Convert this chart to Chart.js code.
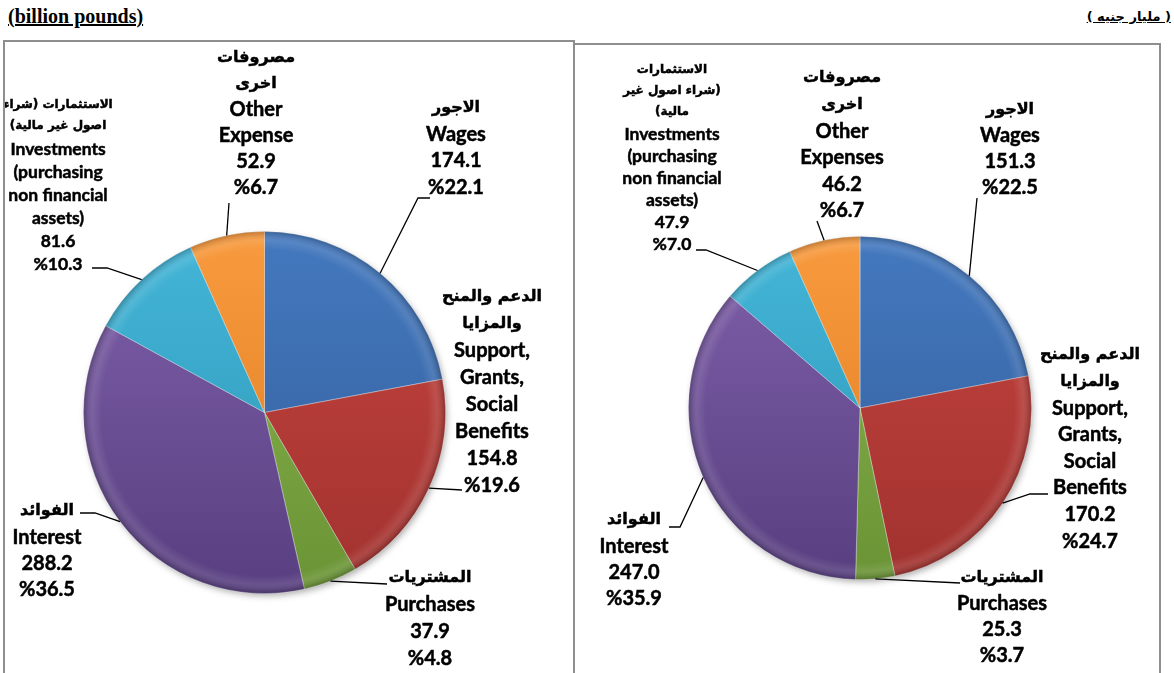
<!DOCTYPE html>
<html>
<head>
<meta charset="utf-8">
<script src="https://cdn.jsdelivr.net/npm/chart.js@4/dist/chart.umd.min.js"></script>
<style>
  body { margin: 0; background: #fff; width: 1174px; height: 673px; overflow: hidden; position: relative; }
  .unit { position: absolute; font-weight: bold; text-decoration: underline; color: #000; white-space: nowrap; }
  #unitEn { left: 8px; top: 5px; font-family: "Liberation Serif", "Times New Roman", serif; font-size: 20px; }
  #unitAr { right: 3px; top: 9px; font-family: "DejaVu Sans", sans-serif; font-size: 13px; direction: rtl; }
  .frame { position: absolute; border: 2px solid #8e8e8e; border-bottom: none; height: 660px; }
  #frameLeft { left: 3px; top: 40px; width: 568px; }
  #frameRight { left: 573px; top: 43px; width: 584px; }
  canvas { position: absolute; }
  #pieLeft { left: 5px; top: 42px; }
  #pieRight { left: 576px; top: 46px; }
</style>
</head>
<body>
<div class="unit" id="unitEn">(billion pounds)</div>
<div class="unit" id="unitAr">( مليار جنيه )</div>
<div class="frame" id="frameLeft"></div>
<div class="frame" id="frameRight"></div>
<canvas id="pieLeft" width="566" height="631"></canvas>
<canvas id="pieRight" width="582" height="627"></canvas>

<script>
// expenditure breakdown, billion pounds (slice order clockwise from the top)
const leftNamesAr = ['الاجور', 'الدعم والمنح\nوالمزايا', 'المشتريات', 'الفوائد', 'الاستثمارات (شراء\nاصول غير مالية)', 'مصروفات\nاخرى'];
const rightNamesAr = ['الاجور', 'الدعم والمنح\nوالمزايا', 'المشتريات', 'الفوائد', 'الاستثمارات\n(شراء اصول غير\nمالية)', 'مصروفات\nاخرى'];
const leftNamesEn = ['Wages', 'Support,\nGrants,\nSocial\nBenefits', 'Purchases', 'Interest', 'Investments\n(purchasing\nnon financial\nassets)', 'Other\nExpense'];
const rightNamesEn = ['Wages', 'Support,\nGrants,\nSocial\nBenefits', 'Purchases', 'Interest', 'Investments\n(purchasing\nnon financial\nassets)', 'Other\nExpenses'];

const leftValues = [174.1, 154.8, 37.9, 288.2, 81.6, 52.9];
const leftPct = [22.1, 19.6, 4.8, 36.5, 10.3, 6.7];
const rightValues = [151.3, 170.2, 25.3, 247.0, 47.9, 46.2];
const rightPct = [22.5, 24.7, 3.7, 35.9, 7.0, 6.7];

// top / bottom shade for each slice
const sliceColours = [
  ['#4479bf', '#325d9a'],
  ['#c6443f', '#a1322f'],
  ['#8cb650', '#6a9335'],
  ['#8060ab', '#583f80'],
  ['#44b6d8', '#2c94b5'],
  ['#f89a3e', '#df7c20']
];

// label placement (page pixels): first line centre, line steps, leader bend points
const leftLayout = [
  { x: 456, y: 108, step: 26.5, leader: [[418, 198], [430, 198]] },
  { x: 492, y: 297, step: 27, leader: [[462, 490]] },
  { x: 430, y: 578, step: 26.7, leader: [[387, 584]] },
  { x: 47, y: 511, step: 26.3, leader: [[95, 513], [80, 513]] },
  { x: 58, y: 105, step: 23, arStep: 21, size: 17.5, arSize: 12, leader: [[107, 268], [92, 268]] },
  { x: 256, y: 58, step: 26, leader: [[229, 203]] }
];
const rightLayout = [
  { x: 1010, y: 110, step: 26, leader: [[977, 198]] },
  { x: 1090, y: 355, step: 26.6, leader: [[1030, 494], [1048, 494]] },
  { x: 1002, y: 578, step: 26, leader: [[960, 583]] },
  { x: 634, y: 520, step: 26.3, leader: [[680, 527], [669, 527]] },
  { x: 672, y: 70, step: 22, arStep: 21, size: 17.5, arSize: 12, leader: [[706, 250], [696, 250]] },
  { x: 842, y: 78, step: 26.6, leader: [[817, 221]] }
];

// drop shadow under the pie and a soft bevel along its rim
const pieShade = {
  id: 'pieShade',
  beforeDatasetsDraw(chart) {
    const arc = chart.getDatasetMeta(0).data[0];
    if (!arc) return;
    const ctx = chart.ctx;
    ctx.save();
    ctx.shadowColor = 'rgba(0,0,0,0.35)';
    ctx.shadowBlur = 7;
    ctx.shadowOffsetX = 2;
    ctx.shadowOffsetY = 3;
    ctx.beginPath();
    ctx.arc(arc.x, arc.y, arc.outerRadius - 1, 0, Math.PI * 2);
    ctx.fillStyle = '#777';
    ctx.fill();
    ctx.restore();
  },
  afterDatasetsDraw(chart) {
    const arc = chart.getDatasetMeta(0).data[0];
    if (!arc) return;
    const ctx = chart.ctx;
    const g = ctx.createRadialGradient(arc.x, arc.y, 0, arc.x, arc.y, arc.outerRadius);
    g.addColorStop(0, 'rgba(255,255,255,0)');
    g.addColorStop(0.9, 'rgba(255,255,255,0)');
    g.addColorStop(0.95, 'rgba(255,255,255,0.10)');
    g.addColorStop(1, 'rgba(0,0,0,0.22)');
    ctx.save();
    ctx.beginPath();
    ctx.arc(arc.x, arc.y, arc.outerRadius, 0, Math.PI * 2);
    ctx.fillStyle = g;
    ctx.fill();
    ctx.restore();
  }
};

function sliceLabels(namesAr, namesEn, values, pct, layout) {
  return {
    id: 'sliceLabels',
    afterDatasetsDraw(chart) {
      const ctx = chart.ctx;
      const ox = chart.canvas.offsetLeft;
      const oy = chart.canvas.offsetTop;
      ctx.save();
      ctx.textAlign = 'center';
      ctx.textBaseline = 'middle';
      ctx.fillStyle = '#000';
      chart.getDatasetMeta(0).data.forEach((arc, i) => {
        const spot = layout[i];
        const mid = (arc.startAngle + arc.endAngle) / 2;
        ctx.beginPath();
        ctx.moveTo(arc.x + Math.cos(mid) * arc.outerRadius, arc.y + Math.sin(mid) * arc.outerRadius);
        spot.leader.forEach(p => ctx.lineTo(p[0] - ox, p[1] - oy));
        ctx.strokeStyle = '#000';
        ctx.lineWidth = 1.3;
        ctx.stroke();

        const lines = [];
        namesAr[i].split('\n').forEach(t => lines.push({ t, ar: true }));
        namesEn[i].split('\n').forEach(t => lines.push({ t }));
        lines.push({ t: values[i].toFixed(1) });
        lines.push({ t: '%' + pct[i].toFixed(1) });

        let ty = spot.y - oy;
        lines.forEach((ln, k) => {
          if (k > 0) ty += ln.ar ? (spot.arStep || spot.step) : spot.step;
          ctx.font = ln.ar
            ? 'bold ' + (spot.arSize || 16) + 'px "DejaVu Sans"'
            : 'bold ' + (spot.size || 20) + 'px Lato';
          ctx.direction = ln.ar ? 'rtl' : 'ltr';
          ctx.lineWidth = 0.5;
          ctx.strokeStyle = '#000';
          ctx.strokeText(ln.t, spot.x - ox, ty);
          ctx.fillText(ln.t, spot.x - ox, ty);
        });
      });
      ctx.restore();
    }
  };
}

function drawPie(id, values, names, padding, labelPlugin) {
  new Chart(document.getElementById(id), {
    type: 'pie',
    data: {
      labels: names.map(n => n.replace(/\n/g, ' ')),
      datasets: [{
        data: values,
        backgroundColor: (c) => {
          const area = c.chart.chartArea;
          const pair = sliceColours[c.dataIndex];
          if (!area) return pair[0];
          const g = c.chart.ctx.createLinearGradient(0, area.top, 0, area.bottom);
          g.addColorStop(0, pair[0]);
          g.addColorStop(1, pair[1]);
          return g;
        },
        borderColor: 'rgba(255,255,255,0.35)',
        borderWidth: 1,
        hoverOffset: 0,
        offset: 0
      }]
    },
    options: {
      responsive: false,
      animation: false,
      events: [],
      layout: { padding },
      plugins: {
        legend: { display: false },
        tooltip: { enabled: false }
      }
    },
    plugins: [pieShade, labelPlugin]
  });
}

drawPie('pieLeft', leftValues, leftNamesEn, { left: 78, top: 189, right: 125, bottom: 79 },
  sliceLabels(leftNamesAr, leftNamesEn, leftValues, leftPct, leftLayout));
drawPie('pieRight', rightValues, rightNamesEn, { left: 112, top: 190, right: 126, bottom: 93 },
  sliceLabels(rightNamesAr, rightNamesEn, rightValues, rightPct, rightLayout));
</script>
</body>
</html>
